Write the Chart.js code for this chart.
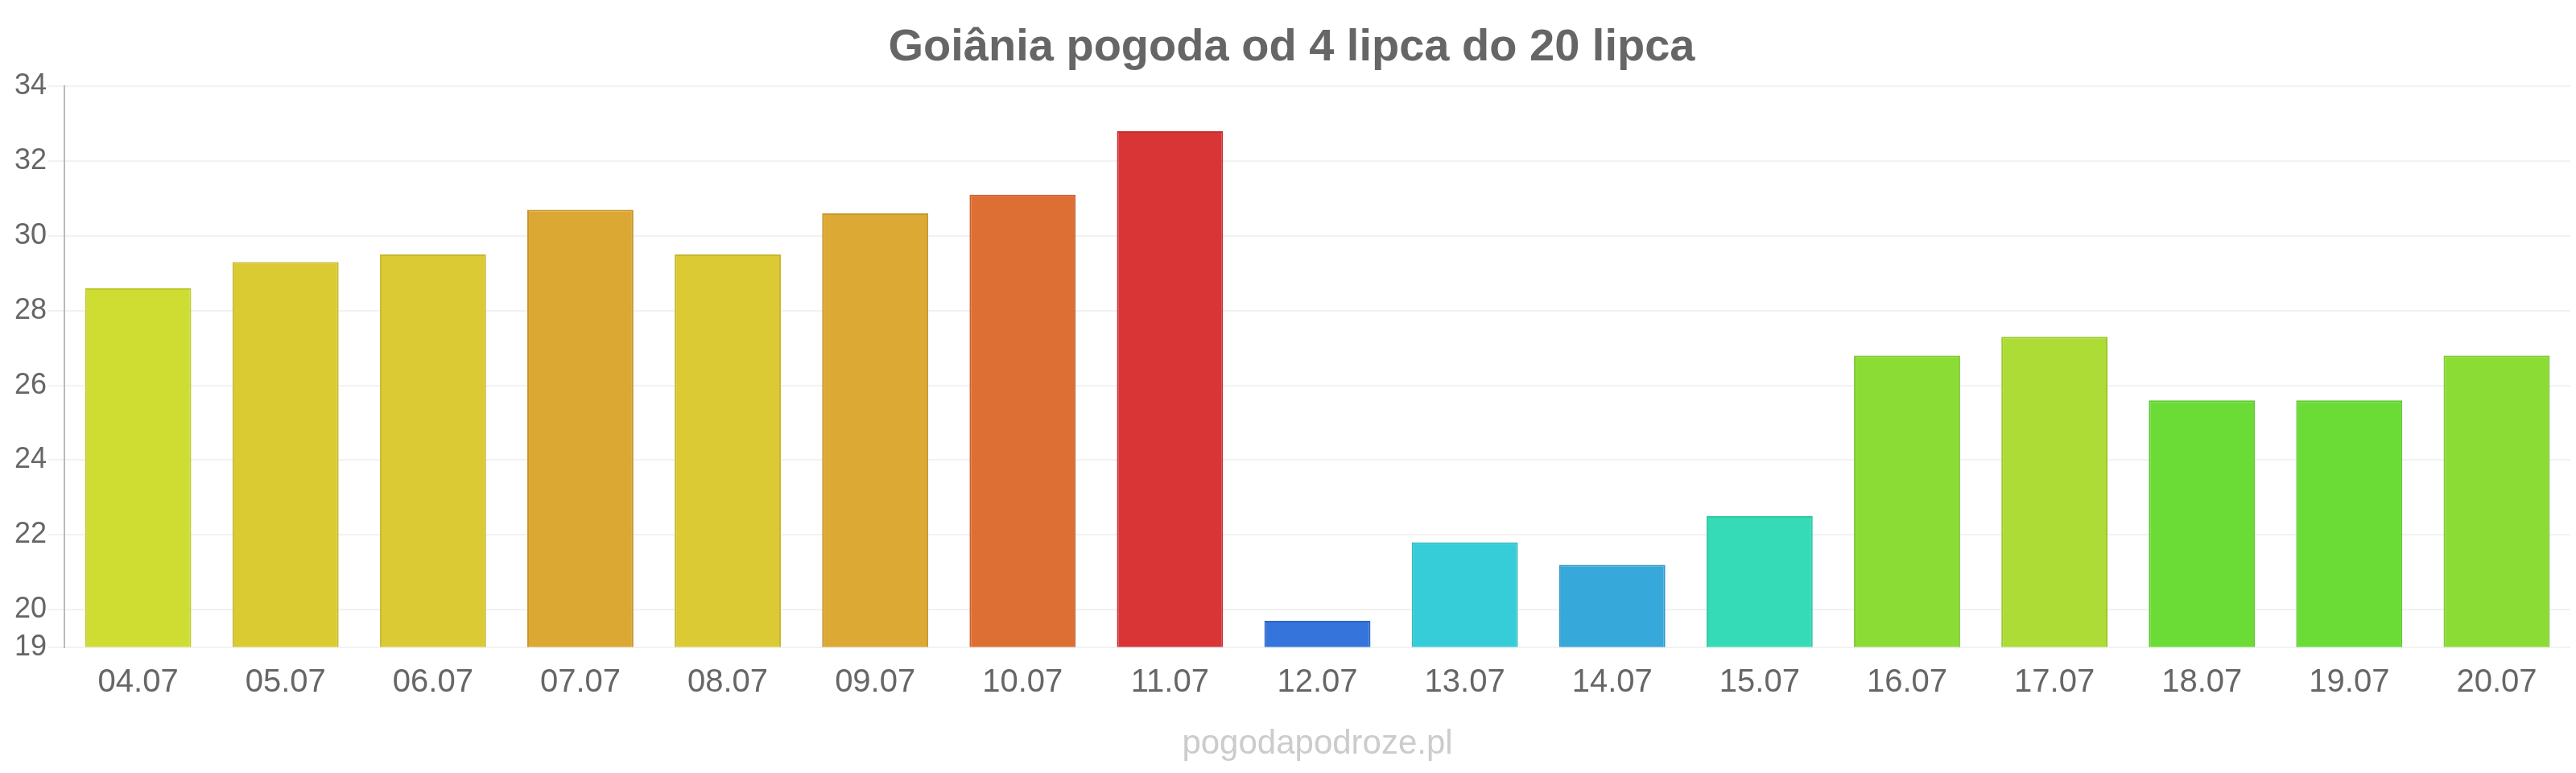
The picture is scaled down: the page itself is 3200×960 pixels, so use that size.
<!DOCTYPE html>
<html>
<head>
<meta charset="utf-8">
<script src="https://cdn.jsdelivr.net/npm/chart.js@4"></script>
<style>
  html, body { margin: 0; padding: 0; background: #fff; overflow: hidden; }
  #wrap { width: 3200px; height: 960px; overflow: hidden; }
  #weatherChart { display: block; width: 3200px; height: 960px; }
</style>
</head>
<body>
<div id="wrap"><canvas id="weatherChart" width="3200" height="960"></canvas></div>
<script>
const days = ['04.07', '05.07', '06.07', '07.07', '08.07', '09.07', '10.07', '11.07', '12.07',
              '13.07', '14.07', '15.07', '16.07', '17.07', '18.07', '19.07', '20.07'];
const temps = [28.6, 29.3, 29.5, 30.7, 29.5, 30.6, 31.1, 32.8, 19.7,
               21.8, 21.2, 22.5, 26.8, 27.3, 25.6, 25.6, 26.8];
const yTicks = [19, 20, 22, 24, 26, 28, 30, 32, 34];
const fillColors = ['#cfdd33', '#dbcb33', '#dbca33', '#dca834', '#dbca33', '#dca934', '#dd6f34', '#d93436', '#3574db',
                    '#36cdd9', '#36a8d9', '#35dbb6', '#8cdc36', '#acdc35', '#6bdc35', '#6bdc35', '#8cdc36'];
const borderColors = ['#bcca2c', '#c8b72c', '#c8b72c', '#c9962d', '#c8b72c', '#c9962d', '#c9622c', '#c52c2e', '#2d66c6',
                      '#2ebac6', '#2e96c6', '#2ec8a4', '#7cc82e', '#9ac82e', '#5cc82e', '#5cc82e', '#7cc82e'];

const ctx = document.getElementById('weatherChart').getContext('2d');
new Chart(ctx, {
    type: 'bar',
    data: {
        labels: days,
        datasets: [{
            data: temps,
            backgroundColor: fillColors,
            borderColor: borderColors,
            borderWidth: 2,
            barPercentage: 0.9,
            categoryPercentage: 0.8
        }]
    },
    options: {
        responsive: false,
        animation: false,
        devicePixelRatio: 1,
        layout: { padding: { left: 16, right: 7, top: 0, bottom: 10 } },
        plugins: {
            legend: { display: false },
            tooltip: { enabled: false },
            title: {
                display: true,
                text: 'Goiânia pogoda od 4 lipca do 20 lipca',
                color: '#666',
                font: { family: 'Liberation Sans', size: 56, weight: 'bold' },
                padding: { top: 26, bottom: 14 }
            }
        },
        scales: {
            x: {
                grid: { display: false },
                border: { display: false },
                ticks: {
                    color: '#666',
                    font: { family: 'Liberation Sans', size: 40 },
                    padding: 12
                },
                title: {
                    display: true,
                    text: 'pogodapodroze.pl',
                    color: '#ccc',
                    font: { family: 'Liberation Sans', size: 42 },
                    padding: { top: 16, bottom: 0 }
                }
            },
            y: {
                min: 19,
                max: 34,
                afterBuildTicks: (axis) => {
                    axis.ticks = yTicks.map(v => ({ value: v }));
                },
                grid: { color: '#f2f2f2', lineWidth: 2, tickLength: 20 },
                border: { color: '#bbb', width: 2 },
                ticks: {
                    color: '#666',
                    font: { family: 'Liberation Sans', size: 36 },
                    padding: 2
                }
            }
        }
    }
});
</script>
</body>
</html>
